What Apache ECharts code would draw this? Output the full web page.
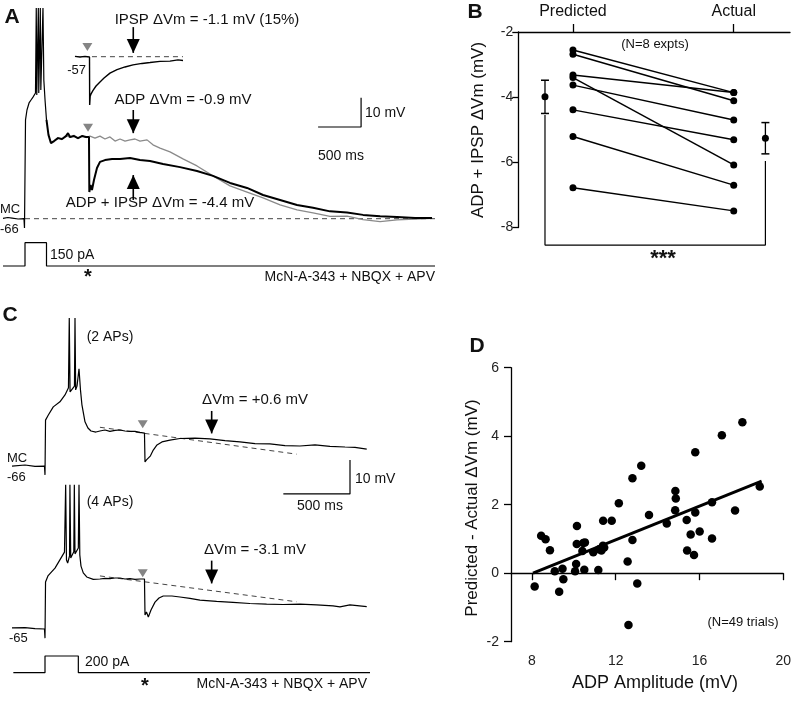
<!DOCTYPE html>
<html><head><meta charset="utf-8">
<script src="https://cdn.jsdelivr.net/npm/echarts@6/dist/echarts.min.js"></script>
<style>html,body{margin:0;padding:0;background:#fff}#c{width:794px;height:709px}</style>
</head><body><div id="c"></div>
<script>
// ===== Panel A: [time (ms from current-step onset), Vm (mV)] =====
const aCombined = [[-256,-65.9],[-200,-65.6],[-150,-65.8],[-80,-66.1],[-12,-66.0],[-6,-69.2],[6,-32.3],[23,-28.9],[47,-26.5],[70,-25.5],[93,-24.5],[122,-23.1],
 [131,5.9],[137,-23.8],[155,5.9],[160,-23.1],[178,5.9],[184,-22.1],[209,5.9],[219,-18.7],[233,-25.5],[250,-32.3],[273,-37.4],[302,-40.2],[337,-39.5],[384,-38.5],[430,-38.8],[477,-37.8],[500,-36.8],[523,-38.1],[570,-37.8],[616,-38.5],[663,-37.8],[709,-38.1],[744,-38.1],
 [748,-56.9],[762,-54.5],[779,-56.2],[802,-52.8],[837,-48.7],[872,-46.6],[930,-46.0],[1012,-45.6],[1105,-45.6],[1221,-45.3],[1337,-46.0],[1454,-46.3],[1605,-47.3],[1803,-48.4],[2000,-49.7],[2186,-51.4],[2384,-53.8],[2582,-55.5],[2768,-57.9],[2966,-59.6],[3163,-61.3],[3349,-62.3],[3547,-63.5],[3745,-63.9],[3931,-64.7],[4129,-65.2],[4326,-65.4],[4536,-65.8],[4733,-65.8]];
const aAdpOnly = [[337,-39.8],[384,-38.3],[430,-39.0],[477,-37.6],[523,-38.3],[570,-37.5],[616,-38.7],[663,-37.6],[709,-38.3],[756,-37.8],[814,-38.5],[872,-37.8],[930,-38.8],[988,-38.1],[1047,-39.5],[1105,-38.8],[1163,-39.5],[1221,-39.1],[1279,-38.8],[1337,-39.5],[1419,-39.1],[1488,-40.8],[1570,-41.9],[1686,-43.2],[1837,-45.6],[2000,-48.0],[2186,-51.4],[2384,-54.8],[2582,-56.9],[2768,-58.9],[2966,-61.3],[3163,-63.0],[3349,-64.0],[3547,-65.2],[3745,-65.1],[3931,-66.3],[4129,-67.0],[4326,-66.4],[4536,-66.1],[4733,-65.9]];
const aIpspInset = [[581,-56.9],[640,-57.1],[698,-56.9],[750,-57.1],[752,-73.5],[758,-70.5],[770,-69.6],[791,-68.5],[826,-67.0],[872,-65.6],[919,-64.3],[988,-62.6],[1070,-61.4],[1163,-60.5],[1256,-59.8],[1361,-59.3],[1454,-59.0],[1570,-58.6],[1686,-58.5],[1779,-58.1],[1837,-58.3]];
const aInsetBaseline = [[674,-57],[1837,-57]];
const aRestBaseline = [[0,-66],[4770,-66]];
const aCurrent = [[-256,0],[0,0],[0,150],[250,150],[250,0],[4768,0]];
const aStimMain = [[733,-35.0]];
const aStimInset = [[725,-53.7]];
const aScaleBar = [[3408,-34.7],[3908,-34.7],[3908,-24.7]];

// ===== Panel C =====
const cTwoAP = [[-247.5,-66.1],[-150,-65.8],[-75,-66.2],[-4,-66.1],[0,-68.7],[4,-52.6],[25,-51.1],[62,-48.7],[112,-47.2],[150,-45.2],[176,-43.1],[182,-22.6],[188,-44.3],[200,-44.0],[221,-42.6],[225,-22.6],[230,-43.7],[240,-42.6],[255,-37.5],[266,-43.7],[277,-48.1],[300,-53.1],[322,-54.9],[345,-55.8],[382,-56.1],[412,-55.8],[450,-55.5],[487,-55.9],[525,-55.6],[562,-55.5],[600,-55.8],[637,-55.9],[675,-55.9],[712,-56.2],[746,-56.4],
 [750,-64.9],[761,-64.3],[775,-64.6],[791,-63.1],[812,-61.4],[840,-59.9],[877,-59.0],[937,-58.5],[1012,-58.0],[1125,-57.9],[1237,-58.1],[1350,-58.6],[1462,-59.0],[1575,-59.5],[1687,-59.6],[1800,-60.1],[1912,-60.2],[2025,-59.9],[2137,-60.3],[2250,-60.5],[2325,-60.6],[2413,-61.1]];
const cFourAP = [[-247.5,-64.9],[-150,-64.8],[-75,-65.1],[-4,-65.2],[0,-67.9],[4,-51.4],[22,-49.6],[37,-49.3],[75,-47.3],[125,-44.0],[146,-42.6],[155,-22.8],[161,-44.9],[170,-45.8],[184,-43.7],[187,-22.8],[193,-44.3],[202,-44.3],[216,-42.5],[220,-22.8],[225,-43.1],[235,-43.4],[250,-41.4],[255,-22.8],[261,-43.4],[270,-46.7],[287,-48.7],[313,-49.9],[362,-50.6],[412,-50.5],[450,-50.3],[487,-50.4],[525,-50.2],[562,-50.2],[600,-50.5],[637,-50.4],[675,-50.6],[712,-50.5],[746,-50.5],
 [750,-61.1],[761,-60.2],[775,-61.7],[795,-59.6],[825,-57.3],[855,-56.1],[887,-55.5],[952,-55.5],[1012,-55.8],[1087,-56.2],[1162,-56.7],[1287,-57.1],[1410,-57.4],[1537,-57.7],[1662,-57.9],[1785,-58.0],[1912,-57.9],[2037,-58.1],[2160,-58.4],[2212,-58.7],[2287,-58.1],[2413,-58.6]];
const cTwoAPFit = [[412,-54.7],[1887,-62.6]];
const cFourAPFit = [[412,-49.6],[1887,-57.2]];
const cCurrent = [[-237.5,0],[0,0],[0,200],[250,200],[250,0],[2437.5,0]];
const cStimTop = [[733,-53.8]];
const cStimBottom = [[733,-48.8]];
const cScaleBar = [[1787.5,-74.3],[2287.5,-74.3],[2287.5,-64.3]];

// ===== Panel B =====
const bCategories = ['Predicted','Actual'];
const bPredicted = [-2.55,-2.68,-3.32,-3.40,-3.63,-4.39,-5.21,-6.78];
const bActual = [-3.86,-4.11,-3.86,-6.08,-4.70,-5.31,-6.70,-7.49];
const bMeans = [-3.99,-5.26];
const bSEM = [0.51,0.48];
const bYTicks = [-8,-6,-4,-2];

// ===== Panel D =====
const dAmplitude = [8.13,8.44,8.65,8.86,9.09,9.30,9.46,9.50,10.15,10.14,10.11,10.06,10.41,10.53,10.50,10.93,11.17,11.21,11.32,11.39,11.40,11.81,12.15,12.57,12.61,12.80,12.80,13.03,13.22,13.59,14.44,14.85,14.87,14.84,15.39,15.41,15.58,15.80,15.80,15.74,16.01,16.60,16.60,17.07,17.70,18.05,18.88,10.45,11.45];
const dDifference = [-0.39,1.09,0.99,0.67,0.06,-0.54,0.13,-0.18,1.38,0.85,0.27,0.06,0.65,0.90,0.10,0.61,0.09,0.70,0.66,0.80,1.53,1.53,2.04,0.34,-1.51,2.77,0.97,-0.30,3.14,1.70,1.45,2.40,2.18,1.84,1.55,0.66,1.13,3.53,1.77,0.53,1.22,2.07,1.01,4.03,1.83,4.41,2.53,0.88,0.75];
const dFitX = [8.05,18.97];
const dFitY = [0.0,2.69];
const dXTicks = [8,12,16,20];

// ===== layout / style =====
const FONT = '"Liberation Sans", Arial, Helvetica, sans-serif';
const INK = '#111';
const B_PRED_X = 1, B_ACT_X = 2, B_MEAN_X = [0.826, 2.197];
const ARROW_T_A = 1259, ARROW_T_C = 1250;

function txt(text, x, y, size, align, extra) {
  extra = extra || {};
  return Object.assign({
    type: 'text', x: x, y: y, silent: true,
    style: Object.assign({ text: text, fill: INK, fontSize: size, fontFamily: FONT,
      align: align || 'center', verticalAlign: 'middle',
      textAlign: align || 'center', textVerticalAlign: 'middle' }, extra.style || {})
  }, extra.el || {});
}
const bold = { style: { fontWeight: 'bold' } };

function trace(data, xi, yi, color, width, extra) {
  return Object.assign({ type: 'line', xAxisIndex: xi, yAxisIndex: yi, data: data, showSymbol: false, symbol: 'none',
    lineStyle: { color: color, width: width }, silent: true, clip: false, z: 3 }, extra || {});
}
function dashed(data, xi, yi) {
  return trace(data, xi, yi, '#444', 1, { lineStyle: { color: '#444', width: 1, type: [5, 4] } });
}
// arrow: shaft + filled triangle head whose tip sits at value `to`
function arrow(xi, yi, t, from, to) {
  const down = to < from;
  return [
    trace([[t, from], [t, to]], xi, yi, '#000', 1.6),
    { type: 'scatter', xAxisIndex: xi, yAxisIndex: yi, data: [[t, to]], symbol: 'triangle',
      symbolRotate: down ? 180 : 0, symbolSize: [13, 14], symbolOffset: [0, down ? -7 : 7],
      itemStyle: { color: '#000', opacity: 1 }, silent: true, z: 5 }
  ];
}
function stim(data, xi, yi) {
  return { type: 'scatter', xAxisIndex: xi, yAxisIndex: yi, data: data, symbol: 'triangle', symbolRotate: 180,
    symbolSize: [10, 8], itemStyle: { color: '#858585', opacity: 1 }, silent: true, z: 4 };
}

const hiddenX = (g, min, max) => ({ gridIndex: g, type: 'value', min: min, max: max, show: false });
const hiddenY = (g, min, max) => ({ gridIndex: g, type: 'value', min: min, max: max, show: false });
const axisStyle = { lineStyle: { color: '#000', width: 1.3 } };

// spikes drawn thinner than the slow ADP part so the 4 APs stay distinct
const aSpikePart = aCombined.filter(p => p[0] <= 260);
const aSlowPart = aCombined.filter(p => p[0] >= 250);

const bExperimentSeries = bPredicted.map((p, i) => ({
  type: 'line', xAxisIndex: 2, yAxisIndex: 6, data: [[B_PRED_X, p], [B_ACT_X, bActual[i]]],
  symbol: 'circle', symbolSize: 7, showSymbol: true, itemStyle: { color: '#000', opacity: 1 },
  lineStyle: { color: '#000', width: 1.5 }, silent: true, z: 3
}));

const option = {
  animation: false,
  backgroundColor: '#fff',
  grid: [
    { left: 0, top: 0, width: 440, height: 300 },
    { left: 0, top: 300, width: 400, height: 400 },
    { left: 518.3, top: 32, width: 271.7, height: 195.5 },
    { left: 511, top: 367.7, width: 274, height: 274 }
  ],
  xAxis: [
    hiddenX(0, -290.7, 4825.6),
    hiddenX(1, -337.5, 2662.5),
    { gridIndex: 2, type: 'value', min: 0.66, max: 2.35, position: 'top',
      axisLine: axisStyle, splitLine: { show: false },
      axisTick: { customValues: [B_PRED_X, B_ACT_X], length: 8, lineStyle: { color: '#000', width: 1.3 } },
      axisLabel: { customValues: [B_PRED_X, B_ACT_X], formatter: v => bCategories[Math.round(v) - 1],
        fontSize: 16, fontFamily: FONT, color: INK, margin: 12 } },
    { gridIndex: 3, type: 'value', min: 7, max: 20,
      axisLine: axisStyle, splitLine: { show: false },
      axisTick: { customValues: dXTicks, length: 7, lineStyle: { color: '#000', width: 1.3 } },
      axisLabel: { customValues: dXTicks, fontSize: 14, fontFamily: FONT, color: '#222', margin: 12 } }
  ],
  yAxis: [
    hiddenY(0, -93.75, 8.64),
    hiddenY(0, -218.9, 1712.6),
    hiddenY(0, -140.04, -37.65),
    hiddenY(1, -134.9, -17.27),
    hiddenY(1, -86.09, 31.56),
    hiddenY(1, -327, 4463),
    { gridIndex: 2, type: 'value', min: bYTicks[0], max: bYTicks[bYTicks.length - 1], interval: 2,
      axisLine: Object.assign({ show: true }, axisStyle), splitLine: { show: false },
      axisTick: { show: true, length: 6, lineStyle: { color: '#000', width: 1.3 } },
      axisLabel: { fontSize: 14, fontFamily: FONT, color: '#222', margin: 5 } },
    { gridIndex: 3, type: 'value', min: -2, max: 6, interval: 2,
      axisLine: Object.assign({ show: true }, axisStyle), splitLine: { show: false },
      axisTick: { show: true, length: 7, lineStyle: { color: '#000', width: 1.3 } },
      axisLabel: { fontSize: 14, fontFamily: FONT, color: '#222', margin: 12 } }
  ],
  series: [
    // ---- A ----
    dashed(aRestBaseline, 0, 0),
    dashed(aInsetBaseline, 0, 2),
    trace(aAdpOnly, 0, 0, '#8a8a8a', 1.3),
    trace(aSpikePart, 0, 0, '#000', 1.2),
    trace(aSlowPart, 0, 0, '#000', 2),
    trace(aIpspInset, 0, 2, '#000', 1.4),
    trace(aCurrent, 0, 1, '#000', 1.2),
    trace(aScaleBar, 0, 0, '#000', 1.2),
    stim(aStimMain, 0, 0),
    stim(aStimInset, 0, 2),
    ...arrow(0, 2, ARROW_T_A, -46.9, -55.7),
    ...arrow(0, 0, ARROW_T_A, -28.9, -36.8),
    ...arrow(0, 0, ARROW_T_A, -59.6, -51.1),
    // ---- C ----
    dashed(cTwoAPFit, 1, 3),
    dashed(cFourAPFit, 1, 4),
    trace(cTwoAP, 1, 3, '#000', 1.2),
    trace(cFourAP, 1, 4, '#000', 1.2),
    trace(cCurrent, 1, 5, '#000', 1.2),
    trace(cScaleBar, 1, 3, '#000', 1.2),
    stim(cStimTop, 1, 3),
    stim(cStimBottom, 1, 4),
    ...arrow(1, 3, ARROW_T_C, -49.9, -56.5),
    ...arrow(1, 4, ARROW_T_C, -45.1, -51.8),
    // ---- B ----
    ...bExperimentSeries,
    { type: 'scatter', xAxisIndex: 2, yAxisIndex: 6, data: bMeans.map((m, i) => [B_MEAN_X[i], m]),
      symbolSize: 7, itemStyle: { color: '#000', opacity: 1 }, silent: true, z: 4 },
    ...bMeans.map((m, i) => trace([[B_MEAN_X[i], m - bSEM[i]], [B_MEAN_X[i], m + bSEM[i]]], 2, 6, '#000', 1.3)),
    { type: 'scatter', xAxisIndex: 2, yAxisIndex: 6, symbol: 'rect', symbolSize: [8, 1.5],
      data: bMeans.flatMap((m, i) => [[B_MEAN_X[i], m - bSEM[i]], [B_MEAN_X[i], m + bSEM[i]]]),
      itemStyle: { color: '#000', opacity: 1 }, silent: true },
    trace([[B_MEAN_X[0], -4.55], [B_MEAN_X[0], -8.54], [B_MEAN_X[1], -8.54], [B_MEAN_X[1], -5.96]], 2, 6, '#000', 1.2),
    // ---- D ----
    { type: 'scatter', xAxisIndex: 3, yAxisIndex: 7, data: dAmplitude.map((x, i) => [x, dDifference[i]]),
      symbolSize: 8.5, itemStyle: { color: '#000', opacity: 1 }, silent: true },
    trace(dFitX.map((x, i) => [x, dFitY[i]]), 3, 7, '#000', 3)
  ],
  graphic: [
    // A
    txt('A', 12, 17, 21, 'center', bold),
    txt('IPSP \u0394Vm = -1.1 mV (15%)', 207, 20, 15),
    txt('-57', 86, 70, 13, 'right'),
    txt('ADP \u0394Vm = -0.9 mV', 183, 100, 15),
    txt('ADP + IPSP \u0394Vm = -4.4 mV', 160, 203, 15),
    txt('MC', 0, 209, 13, 'left'),
    txt('-66', 0, 229, 13, 'left'),
    txt('10 mV', 365, 113, 14, 'left'),
    txt('500 ms', 341, 156, 14),
    txt('150 pA', 50, 255, 14, 'left'),
    txt('*', 88, 277, 20, 'center', bold),
    txt('McN-A-343 + NBQX + APV', 435, 277, 14, 'right'),
    // B
    txt('B', 475, 12, 21, 'center', bold),
    txt('(N=8 expts)', 655, 44, 13),
    txt('***', 663, 259, 22, 'center', bold),
    txt('ADP + IPSP \u0394Vm (mV)', 478, 130, 17, 'center', { el: { rotation: Math.PI / 2 } }),
    // C
    txt('C', 10, 315, 21, 'center', bold),
    txt('(2 APs)', 110, 337, 14),
    txt('\u0394Vm = +0.6 mV', 255, 400, 15),
    txt('MC', 7, 458, 13, 'left'),
    txt('-66', 7, 477, 13, 'left'),
    txt('10 mV', 355, 479, 14, 'left'),
    txt('500 ms', 320, 506, 14),
    txt('(4 APs)', 110, 502, 14),
    txt('\u0394Vm = -3.1 mV', 255, 550, 15),
    txt('-65', 9, 638, 13, 'left'),
    txt('200 pA', 85, 662, 14, 'left'),
    txt('*', 145, 686, 20, 'center', bold),
    txt('McN-A-343 + NBQX + APV', 367, 684, 14, 'right'),
    // D
    txt('D', 477, 346, 21, 'center', bold),
    txt('(N=49 trials)', 743, 622, 13),
    txt('Predicted - Actual \u0394Vm (mV)', 472, 508, 17, 'center', { el: { rotation: Math.PI / 2 } }),
    txt('ADP Amplitude (mV)', 655, 683, 18)
  ]
};

const chart = echarts.init(document.getElementById('c'), null, { renderer: 'canvas' });
chart.setOption(option);
</script>
</body></html>
